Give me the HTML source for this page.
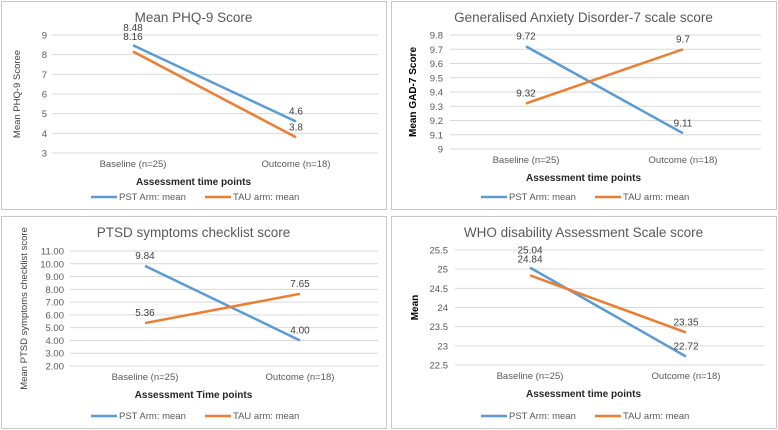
<!DOCTYPE html>
<html><head><meta charset="utf-8"><style>
body{margin:0;width:778px;height:430px;background:#fff;overflow:hidden;font-family:"Liberation Sans",sans-serif}
svg{display:block}
</style></head><body>
<svg id="c" width="778" height="430"></svg>
<script>
const categories=["Baseline (n=25)","Outcome (n=18)"];
const seriesNames=["PST Arm: mean","TAU arm: mean"];
const phqPST=[8.48,4.6], phqTAU=[8.16,3.8];
const phqTicks=[3,4,5,6,7,8,9];
const gadPST=[9.72,9.11], gadTAU=[9.32,9.7];
const gadTicks=[9,9.1,9.2,9.3,9.4,9.5,9.6,9.7,9.8];
const ptsdPST=[9.84,4.00], ptsdTAU=[5.36,7.65];
const ptsdTicks=[2,3,4,5,6,7,8,9,10,11];
const whoPST=[25.04,22.72], whoTAU=[24.84,23.35];
const whoTicks=[22.5,23,23.5,24,24.5,25,25.5];

const NS="http://www.w3.org/2000/svg";
const svg=document.getElementById('c');
function mk(tag,attrs,parent,text){const e=document.createElementNS(NS,tag);for(const k in attrs)e.setAttribute(k,attrs[k]);if(text!==undefined)e.textContent=text;parent.appendChild(e);return e;}
const BLUE="#5b9bd5",ORANGE="#ed7d31";
const panels=[
 {name:"phq9",box:[1,1,385,208],title:"Mean PHQ-9 Score",ytitle:"Mean PHQ-9 Scoree",ybold:false,xtitle:"Assessment time points",pst:phqPST,tau:phqTAU,ticks:phqTicks,dec:0,ldec:-1,top:35,bot:153,x0:52,x1:378,cx:[133,296],ylx:47,ytx:20},
 {name:"gad7",box:[391,1,385,208],title:"Generalised  Anxiety Disorder-7 scale score",ytitle:"Mean GAD-7  Score",ybold:true,xtitle:"Assessment time points",pst:gadPST,tau:gadTAU,ticks:gadTicks,dec:-1,ldec:-1,top:35,bot:149,x0:450,x1:761,cx:[526,683],ylx:443,ytx:416},
 {name:"ptsd",box:[1,216,385,212],title:"PTSD symptoms checklist score",ytitle:"Mean PTSD symptoms checklist score",ybold:false,xtitle:"Assessment Time points",pst:ptsdPST,tau:ptsdTAU,ticks:ptsdTicks,dec:2,ldec:2,top:251,bot:366,x0:70,x1:378,cx:[145,300],ylx:64,ytx:27},
 {name:"whodas",box:[391,216,385,212],title:"WHO disability Assessment  Scale score",ytitle:"Mean",ybold:true,xtitle:"Assessment time points",pst:whoPST,tau:whoTAU,ticks:whoTicks,dec:-1,ldec:-1,top:250,bot:365,x0:455,x1:764,cx:[530,686],ylx:448,ytx:418}
];
const fmt=(v,d)=>d<0?String(v):v.toFixed(d);
panels.forEach(p=>{
 const g=mk('g',{},svg);
 
 
 mk('rect',{x:p.box[0]+.5,y:p.box[1]+.5,width:p.box[2],height:p.box[3],fill:'#fff',stroke:'#c8c8c8'},g);
 const mn=p.ticks[0],mx=p.ticks[p.ticks.length-1];
 const y=v=>p.bot-(v-mn)/(mx-mn)*(p.bot-p.top);
 const cxm=p.box[0]+p.box[2]/2;
 const t=mk('text',{x:cxm,y:p.box[1]+21,'text-anchor':'middle','font-size':13.5,fill:'#595959'},g,p.title);
 
 p.ticks.forEach(v=>{
  const l=mk('line',{x1:p.x0,x2:p.x1,y1:y(v),y2:y(v),stroke:'#d9d9d9','stroke-width':1},g);
  
  const tl=mk('text',{x:p.ylx,y:y(v)+3.5,'text-anchor':'end','font-size':9.5,fill:'#595959'},g,fmt(v,p.dec));
  
 });
 categories.forEach((c,i)=>{
  const xl=mk('text',{x:p.cx[i],y:p.bot+14,'text-anchor':'middle','font-size':9.5,fill:'#595959'},g,c);
  
 });
 const xt=mk('text',{x:cxm,y:p.bot+32,'text-anchor':'middle','font-size':10,'font-weight':'bold',fill:'#262626'},g,p.xtitle);
 
 const ymid=(p.top+p.bot)/2;
 const yt=mk('text',{x:p.ytx,y:ymid,'text-anchor':'middle','font-size':p.ybold?10:9.5,'font-weight':p.ybold?'bold':'normal',fill:p.ybold?'#000':'#404040',transform:`rotate(-90 ${p.ytx} ${ymid})`},g,p.ytitle);
 
 const close0=Math.abs(y(p.pst[0])-y(p.tau[0]))<14;
 [[p.pst,BLUE,'pst'],[p.tau,ORANGE,'tau']].forEach(([vals,col,nm])=>{
  const pl=mk('polyline',{points:vals.map((v,i)=>p.cx[i]+','+y(v)).join(' '),fill:'none',stroke:col,'stroke-width':2.5},g);
  
  vals.forEach((v,i)=>{
   let ly=y(v)-7;
   if(i===0&&close0){const top=Math.min(y(p.pst[0]),y(p.tau[0]));ly=(nm==='pst')?top-14:top-5;}
   const dl=mk('text',{x:p.cx[i],y:ly,'text-anchor':'middle','font-size':10,fill:'#404040'},g,fmt(v,p.ldec));
   
  });
 });
 const ly=p.box[1]+p.box[3]-9;
 seriesNames.forEach((s,i)=>{
  const lx=p.box[0]+90+i*114;
  const lg=mk('g',{},g);
  
  mk('line',{x1:lx,x2:lx+26,y1:ly-3,y2:ly-3,stroke:i?ORANGE:BLUE,'stroke-width':2.5},lg);
  mk('text',{x:lx+28,y:ly,'font-size':9.5,fill:'#595959'},lg,s);
 });
});
</script>
</body></html>
